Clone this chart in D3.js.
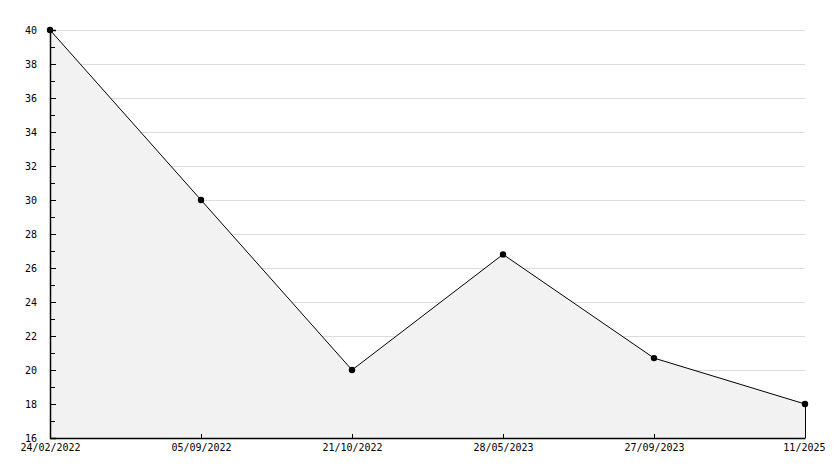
<!DOCTYPE html>
<html><head><meta charset="utf-8">
<script src="https://cdn.jsdelivr.net/npm/d3@7"></script>
<style>body{margin:0;background:#fff}svg{display:block}</style>
</head><body>
<svg id="c" width="834" height="468"></svg>
<script>
const categories = ["24/02/2022","05/09/2022","21/10/2022","28/05/2023","27/09/2023","11/2025"];
const values = [40, 30, 20, 26.8, 20.7, 18];
const yTicks = [16,18,20,22,24,26,28,30,32,34,36,38,40];
const yMinor = [17,19,21,23,25,27,29,31,33,35,37,39];

const svg = d3.select("#c");
const L = 50, R = 805, T = 30, B = 438;
const x = d3.scalePoint().domain(categories).range([L, R]);
const y = d3.scaleLinear().domain([16, 40]).range([B, T]);
const font = "'DejaVu Sans Mono', monospace";

// grid
svg.append("g").selectAll("line").data(yTicks.filter(d => d > 16)).join("line")
  .attr("x1", L).attr("x2", R).attr("y1", d => y(d)).attr("y2", d => y(d))
  .attr("stroke", "#dcdcdc").attr("stroke-width", 1).attr("shape-rendering", "crispEdges");

const data = categories.map((c, i) => ({c, v: values[i]}));
svg.append("path").datum(data)
  .attr("d", d3.area().x(d => x(d.c)).y0(B).y1(d => y(d.v)))
  .attr("fill", "#f2f2f2");
svg.append("path").datum(data)
  .attr("d", d3.line().x(d => x(d.c)).y(d => y(d.v)))
  .attr("fill", "none").attr("stroke", "#000").attr("stroke-width", 1);
// right edge
svg.append("line").attr("x1", x(categories[categories.length-1])).attr("x2", x(categories[categories.length-1]))
  .attr("y1", y(values[values.length-1])).attr("y2", B).attr("stroke", "#000").attr("shape-rendering", "crispEdges");

// y axis
const ya = svg.append("g").attr("transform", `translate(${L},0)`)
  .call(d3.axisLeft(y).tickValues(yTicks).tickSize(-6).tickPadding(13).tickFormat(d3.format("d")));
ya.select(".domain").attr("stroke", "#000").attr("stroke-width", 1.5);
ya.selectAll("text").attr("font-family", font).attr("font-size", 10).attr("fill", "#000");
svg.append("g").selectAll("line").data(yMinor).join("line")
  .attr("x1", L).attr("x2", L + 5).attr("y1", d => y(d)).attr("y2", d => y(d))
  .attr("stroke", "#000").attr("shape-rendering", "crispEdges");

// x axis
const xa = svg.append("g").attr("transform", `translate(0,${B})`)
  .call(d3.axisBottom(x).tickSize(-4).tickPadding(6).tickSizeOuter(0));
xa.select(".domain").attr("stroke", "#000").attr("stroke-width", 1.5);
xa.selectAll("text").attr("font-family", font).attr("font-size", 10).attr("fill", "#000");
xa.selectAll("text").filter(d => d === categories[categories.length-1]).attr("text-anchor", "end").attr("dx", 20);

// markers
svg.append("g").selectAll("circle").data(data).join("circle")
  .attr("cx", d => x(d.c)).attr("cy", d => y(d.v)).attr("r", 3.2).attr("fill", "#000");
</script>
</body></html>
